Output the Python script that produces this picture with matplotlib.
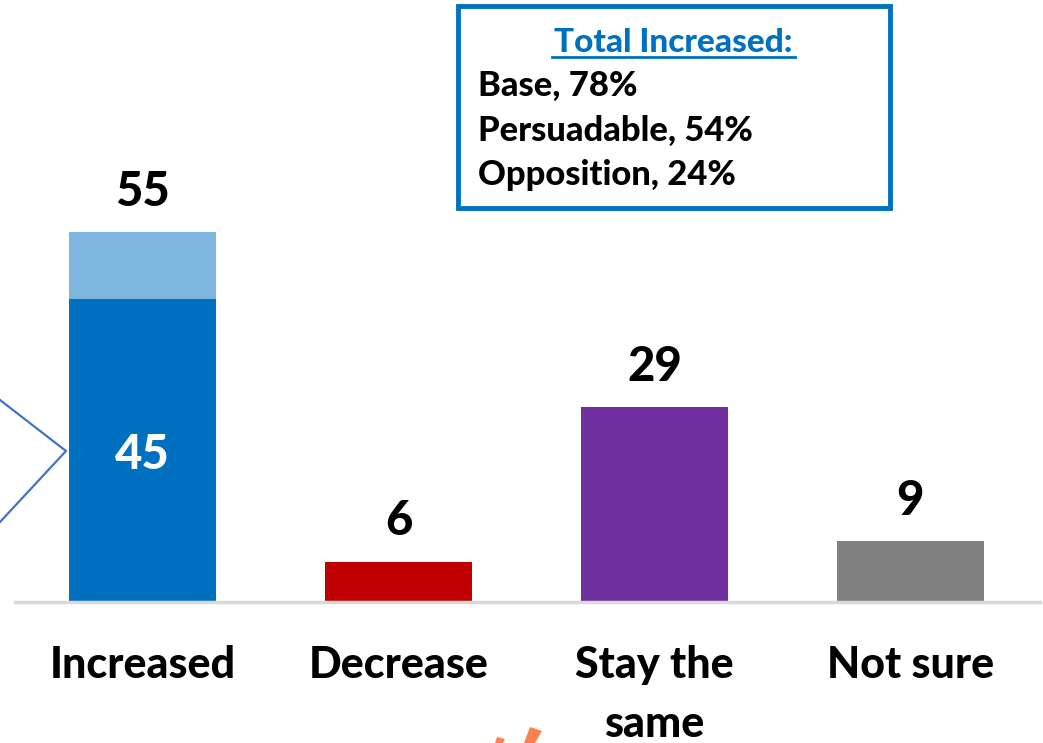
import matplotlib
matplotlib.use("Agg")
import matplotlib.pyplot as plt
from matplotlib.patches import Rectangle, Polygon
from matplotlib.lines import Line2D

categories = ["Increased", "Decrease", "Stay the\nsame", "Not sure"]
totals = [55, 6, 29, 9]
strong_increased = 45
bar_colors = ["#0070C0", "#C00000", "#7030A0", "#808080"]
light_blue = "#7FB6E0"
box_title = "Total Increased:"
box_lines = ["Base, 78%", "Persuadable, 54%", "Opposition, 24%"]

FONT = "Lato"
WEIGHT = "black"
W, H = 1043, 743
fig = plt.figure(figsize=(W / 100, H / 100), dpi=100)

def fx(x):
    return x / W

def fy(y):
    return 1 - y / H

ax_left, ax_right, ax_bottom = 15, 1040, 602
ax = fig.add_axes([fx(ax_left), fy(ax_bottom), fx(ax_right - ax_left), 1 - fy(ax_bottom)])
ax.set_xlim((ax_left - 142.5) / 256, (ax_right - 142.5) / 256)
ax.set_ylim(0, ax_bottom / 6.727)

x = list(range(len(categories)))
bw = 147 / 256
# stacked increased bar
ax.bar(x[0], strong_increased, width=bw, color=bar_colors[0], zorder=2)
ax.bar(x[0], totals[0] - strong_increased, bottom=strong_increased, width=bw, color=light_blue, zorder=2)
ax.bar(x[1:], totals[1:], width=bw, color=bar_colors[1:], zorder=2)

for xi, v in zip(x, totals):
    ax.annotate(str(v), (xi, v), xytext=(0, 29), textcoords="offset points",
                ha="center", va="center", fontsize=34, fontweight=WEIGHT,
                family=FONT, color="black")
ax.annotate(str(strong_increased), (x[0], strong_increased / 2), xytext=(0, -3),
            textcoords="offset points", ha="center", va="center",
            fontsize=34, fontweight=WEIGHT, family=FONT, color="white", zorder=3)

for s in ["top", "right", "left"]:
    ax.spines[s].set_visible(False)
ax.spines["bottom"].set_color("#D9D9D9")
ax.spines["bottom"].set_linewidth(2.5)
ax.set_yticks([])
ax.set_xticks(x)
ax.set_xticklabels(categories, fontsize=31, fontweight=WEIGHT, family=FONT,
                   linespacing=1.58)
ax.tick_params(axis="x", length=0, pad=31)

# info box
fig.patches.append(Rectangle((fx(458), fy(208)), fx(890 - 458), fy(6) - fy(208),
                             transform=fig.transFigure, fill=False,
                             edgecolor="#0070C0", linewidth=3.5))
fig.text(fx(673), fy(42), box_title, ha="center", va="center", fontsize=24,
         fontweight=WEIGHT, family=FONT, color="#0070C0")
fig.lines.append(Line2D([fx(552), fx(795)], [fy(57), fy(57)], transform=fig.transFigure,
                        color="#0070C0", linewidth=2))
for i, line in enumerate(box_lines):
    fig.text(fx(478), fy(86 + 44.5 * i), line, ha="left", va="center", fontsize=24.8,
             fontweight=WEIGHT, family=FONT, color="black")

# left bracket
fig.lines.append(Line2D([fx(0), fx(66), fx(0)], [fy(400), fy(451), fy(522)],
                        transform=fig.transFigure, color="#4472C4", linewidth=1.6))

# orange marks at bottom edge
for pts in ([(495, 743), (497, 737), (505, 739), (503, 743)],
            [(524, 743), (530, 727), (542, 731), (535, 743)]):
    fig.patches.append(Polygon([(fx(a), fy(b)) for a, b in pts], closed=True,
                               transform=fig.transFigure, facecolor="#FF7F50",
                               edgecolor="none"))

fig.savefig("out.png", dpi=100)
